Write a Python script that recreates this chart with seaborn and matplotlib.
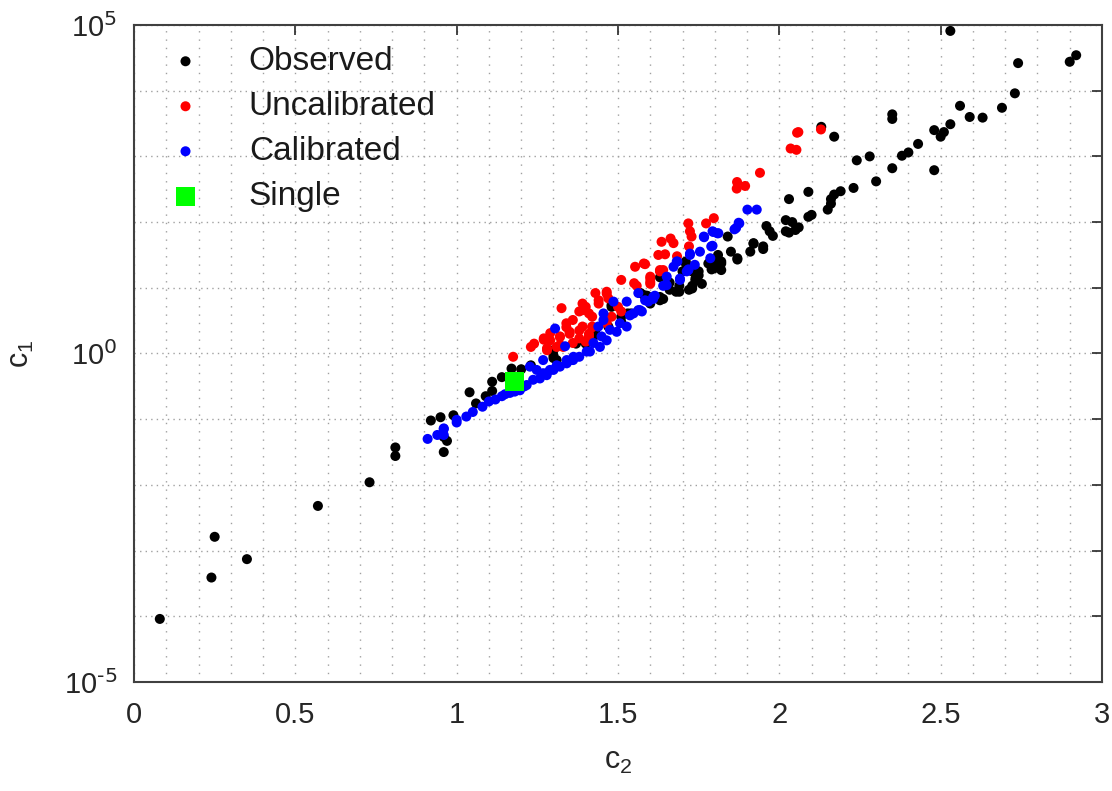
import numpy as np
import pandas as pd
import matplotlib
matplotlib.use("Agg")
import matplotlib.pyplot as plt
import seaborn as sns
from matplotlib.ticker import FixedLocator, NullFormatter

# ---- data (c2, log10 c1) ----
obs_c2 = [0.08, 0.24, 0.25, 0.35, 0.57, 0.73, 0.81, 0.81, 0.92, 0.95, 0.96, 0.97, 0.96, 0.99,
          1.04, 1.06, 1.09, 1.11, 1.11, 1.14, 1.17, 1.20, 1.23, 1.30, 1.31, 1.30, 1.30, 1.37,
          1.40, 1.43, 1.43, 1.47, 1.48, 1.48, 1.51, 1.51, 1.53, 1.54, 1.57, 1.58, 1.59, 1.59,
          1.60, 1.59, 1.63, 1.63, 1.64, 1.63, 1.66, 1.66, 1.69, 1.69, 1.68, 1.72, 1.73, 1.73,
          1.71, 1.71, 1.70, 1.73, 1.73, 1.74, 1.74, 1.75, 1.76, 1.75, 1.78, 1.79, 1.79, 1.80,
          1.80, 1.81, 1.82, 1.82, 1.82, 1.84, 1.85, 1.87, 1.87, 1.91, 1.92, 1.92, 1.95, 1.95,
          1.96, 1.97, 1.98, 2.02, 2.02, 2.03, 2.03, 2.04, 2.05, 2.06, 2.09, 2.09, 2.10, 2.13,
          2.15, 2.16, 2.16, 2.17, 2.17, 2.19, 2.23, 2.24, 2.28, 2.30, 2.35, 2.35, 2.35, 2.38,
          2.40, 2.43, 2.48, 2.48, 2.50, 2.51, 2.53, 2.53, 2.56, 2.59, 2.63, 2.69, 2.73, 2.74,
          2.90, 2.92]
obs_logc1 = [-4.04, -3.41, -2.79, -3.13, -2.32, -1.96, -1.43, -1.56, -1.02, -0.97, -1.50, -1.33, -1.27, -0.94,
             -0.59, -0.76, -0.65, -0.43, -0.57, -0.36, -0.23, -0.24, -0.18, -0.03, -0.10, 0.05, -0.07, 0.15,
             0.15, 0.28, 0.31, 0.41, 0.71, 0.74, 0.56, 0.48, 0.61, 0.61, 0.92, 0.89, 0.83, 0.88,
             0.76, 0.86, 0.86, 0.81, 0.83, 1.16, 0.97, 1.08, 0.94, 1.03, 0.94, 0.97, 0.99, 1.03,
             1.37, 1.40, 1.25, 1.30, 1.25, 1.14, 1.11, 1.19, 1.06, 1.25, 1.37, 1.36, 1.28, 1.38,
             1.30, 1.50, 1.40, 1.27, 1.37, 1.78, 1.55, 1.45, 1.43, 1.55, 1.68, 1.67, 1.63, 1.59,
             1.94, 1.86, 1.79, 2.03, 1.86, 2.35, 1.84, 2.00, 1.88, 1.92, 2.46, 2.08, 2.11, 3.45,
             2.19, 2.35, 2.28, 2.42, 3.30, 2.47, 2.52, 2.94, 3.00, 2.62, 2.82, 3.64, 3.57, 3.01,
             3.06, 3.19, 3.40, 2.79, 3.30, 3.37, 3.49, 4.91, 3.77, 3.60, 3.59, 3.74, 3.96, 4.42,
             4.44, 4.54]

unc_c2 = [1.175, 1.23, 1.24, 1.27, 1.28, 1.27, 1.28, 1.29, 1.29, 1.31, 1.32, 1.32, 1.32, 1.33,
          1.325, 1.34, 1.34, 1.35, 1.35, 1.36, 1.36, 1.38, 1.38, 1.38, 1.39, 1.39, 1.39, 1.40,
          1.40, 1.41, 1.41, 1.41, 1.42, 1.42, 1.42, 1.43, 1.44, 1.44, 1.465, 1.465, 1.465, 1.47,
          1.48, 1.50, 1.51, 1.51, 1.55, 1.553, 1.558, 1.58, 1.584, 1.60, 1.60, 1.60, 1.60, 1.625,
          1.63, 1.63, 1.635, 1.64, 1.646, 1.663, 1.672, 1.683, 1.718, 1.72, 1.723, 1.728, 1.773,
          1.797, 1.868, 1.869, 1.894, 1.94, 2.035, 2.053, 2.055, 2.059, 2.129]
unc_logc1 = [-0.05, 0.10, 0.15, 0.23, 0.05, 0.21, 0.08, 0.31, 0.20, 0.10, 0.26, 0.13, 0.25, 0.10,
             0.69, 0.46, 0.40, 0.33, 0.30, 0.51, 0.16, 0.23, 0.64, 0.35, 0.76, 0.41, 0.66, 0.18,
             0.71, 0.30, 0.26, 0.61, 0.41, 0.40, 0.56, 0.92, 0.76, 0.81, 0.94, 0.46, 0.91, 0.84,
             0.56, 0.71, 1.12, 0.64, 1.07, 1.32, 1.03, 1.37, 1.36, 1.09, 1.14, 1.06, 1.17, 1.50,
             1.25, 1.27, 1.70, 1.27, 1.51, 1.75, 1.68, 1.48, 1.98, 1.63, 1.86, 1.78, 1.98,
             2.06, 2.51, 2.61, 2.55, 2.75, 3.12, 3.10, 3.36, 3.37, 3.41]

cal_c2 = [0.91, 0.94, 0.96, 0.96, 0.96, 1.00, 1.00, 1.03, 1.05, 1.08, 1.10, 1.12, 1.14, 1.15,
          1.165, 1.18, 1.196, 1.21, 1.217, 1.227, 1.237, 1.248, 1.258, 1.268, 1.268, 1.279, 1.279,
          1.289, 1.30, 1.305, 1.31, 1.32, 1.336, 1.341, 1.341, 1.356, 1.361, 1.362, 1.38, 1.403,
          1.413, 1.424, 1.439, 1.444, 1.449, 1.455, 1.455, 1.465, 1.475, 1.486, 1.496, 1.506,
          1.527, 1.527, 1.537, 1.548, 1.563, 1.563, 1.568, 1.574, 1.584, 1.594, 1.609, 1.609,
          1.614, 1.640, 1.646, 1.651, 1.651, 1.672, 1.682, 1.684, 1.692, 1.692, 1.713, 1.718,
          1.718, 1.723, 1.723, 1.738, 1.754, 1.766, 1.767, 1.786, 1.789, 1.793, 1.793, 1.795,
          1.808, 1.811, 1.861, 1.866, 1.874, 1.876, 1.901, 1.930]
cal_logc1 = [-1.30, -1.24, -1.15, -1.14, -1.24, -1.05, -1.01, -0.96, -0.89, -0.81, -0.73, -0.70, -0.65, -0.62,
             -0.60, -0.58, -0.56, -0.50, -0.48, -0.20, -0.40, -0.25, -0.38, -0.10, -0.30, -0.30, -0.33,
             -0.25, -0.25, 0.38, -0.18, -0.20, 0.11, -0.15, -0.10, -0.10, -0.10, -0.05, -0.05, 0.03,
             0.03, 0.16, 0.41, 0.10, 0.26, 0.61, 0.51, 0.20, 0.36, 0.79, 0.33, 0.46,
             0.41, 0.79, 0.58, 0.61, 0.92, 0.66, 0.66, 0.64, 0.81, 0.79, 0.86, 0.83,
             0.88, 1.03, 1.04, 1.04, 1.17, 1.32, 1.40, 1.40, 1.12, 1.14, 1.25, 1.27,
             1.28, 1.50, 1.52, 1.35, 1.55, 1.78, 1.77, 1.45, 1.63, 1.64, 1.86, 1.85,
             1.83, 1.83, 1.89, 1.91, 1.99, 1.98, 2.19, 2.19]

single_c2 = [1.18]
single_logc1 = [-0.43]

series_names = ["Observed", "Uncalibrated", "Calibrated", "Single"]
series_colors = ["#000000", "#ff0000", "#0000ff", "#00ff00"]

x_ticks = [0, 0.5, 1, 1.5, 2, 2.5, 3]
y_label_decades = [-5, 0, 5]

# ---- figure ----
sns.set_theme(style="white")
plt.rcParams["font.family"] = ["Liberation Sans", "DejaVu Sans"]
plt.rcParams["mathtext.default"] = "regular"

fig = plt.figure(figsize=(11.12, 7.91), dpi=100)
ax = fig.add_axes([0.1205, 0.1378, 0.8705, 0.8306])

data = [(obs_c2, obs_logc1), (unc_c2, unc_logc1), (cal_c2, cal_logc1)]
for (xs, ls), name, col in zip(data, series_names[:3], series_colors[:3]):
    df = pd.DataFrame({"c2": xs, "c1": 10.0 ** np.array(ls)})
    sns.scatterplot(data=df, x="c2", y="c1", color=col, s=52, edgecolor="none",
                    linewidth=0, label=name, ax=ax, zorder=3)
df_s = pd.DataFrame({"c2": single_c2, "c1": 10.0 ** np.array(single_logc1)})
sns.scatterplot(data=df_s, x="c2", y="c1", color=series_colors[3], marker="s", s=190,
                edgecolor="none", linewidth=0, label=series_names[3], ax=ax, zorder=4)

ax.set_yscale("log")
ax.set_xlim(0, 3)
ax.set_ylim(1e-5, 1e5)


def dec_label(d):
    if d not in y_label_decades:
        return ""
    return "10$^{\\mathrm{%s}}$" % (("\u2010%d" % (-d)) if d < 0 else ("%d" % d))


ax.xaxis.set_major_locator(FixedLocator(x_ticks))
ax.set_xticklabels([("%g" % t) for t in x_ticks])
ax.xaxis.set_minor_locator(FixedLocator(np.arange(0.1, 3.0, 0.1)))
ax.yaxis.set_major_locator(FixedLocator([10.0 ** d for d in range(-5, 6)]))
ax.set_yticklabels([dec_label(d) for d in range(-5, 6)])
ax.yaxis.set_minor_locator(FixedLocator([]))
ax.yaxis.set_minor_formatter(NullFormatter())

ax.tick_params(axis="x", which="major", direction="in", length=7, width=1.2,
               top=True, labelsize=21, colors="#262626", pad=14)
ax.tick_params(axis="y", which="major", direction="in", length=7, width=1.2,
               right=True, labelsize=21, colors="#262626", pad=12)
ax.tick_params(axis="x", which="minor", length=0)
ax.grid(True, which="both", axis="x", linestyle=(0, (1, 5)), color="#a0a0a0", linewidth=1.0)
ax.grid(True, which="major", axis="y", linestyle=(0, (1, 3)), color="#a0a0a0", linewidth=1.0)
ax.set_axisbelow(True)
for sp in ax.spines.values():
    sp.set_visible(True)
    sp.set_color("#404040")
    sp.set_linewidth(1.5)

ax.set_xlabel("c$_2$", fontsize=22, color="#262626", labelpad=12)
ax.set_ylabel("c$_1$", fontsize=22, color="#262626", labelpad=20)

leg = ax.legend(loc="upper left", bbox_to_anchor=(0.036, 0.968), frameon=False,
                fontsize=24, handlelength=1.0, handletextpad=1.4, labelspacing=0.42,
                borderpad=0, borderaxespad=0, markerscale=1.0)
for t in leg.get_texts():
    t.set_color("#1a1a1a")

fig.savefig("out.png", dpi=100)
